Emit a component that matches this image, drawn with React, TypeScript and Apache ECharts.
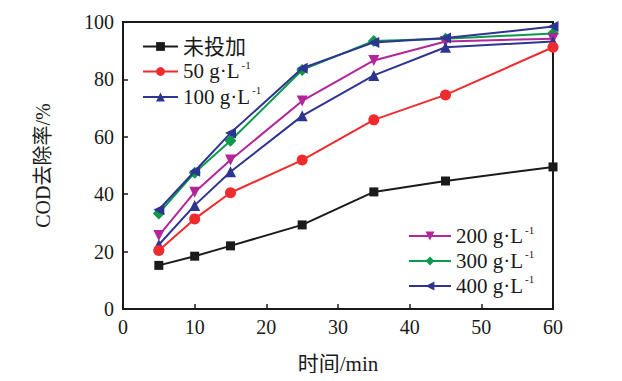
import React, { useEffect, useRef } from "react";
import * as echarts from "echarts";

const times = [5, 10, 15, 25, 35, 45, 60];
const seriesNames = ["未投加", "50 g·L", "100 g·L", "200 g·L", "300 g·L", "400 g·L"];
const none = [15.2, 18.4, 22.0, 29.3, 40.8, 44.6, 49.5];
const g50 = [20.4, 31.4, 40.5, 51.9, 65.9, 74.6, 91.2];
const g100 = [22.4, 36.1, 47.8, 67.3, 81.4, 91.2, 93.2];
const g200 = [25.6, 40.7, 51.9, 72.5, 86.6, 93.2, 94.2];
const g300 = [33.3, 47.5, 58.6, 83.3, 93.4, 94.2, 96.0];
const g400 = [34.6, 48.0, 61.3, 83.9, 92.9, 94.4, 98.4];
const xTicks = [0, 10, 20, 30, 40, 50, 60];
const yTicks = [0, 20, 40, 60, 80, 100];

const values = [none, g50, g100, g200, g300, g400];
const colors = ["#1a1a1a", "#ef2b2d", "#2e3590", "#b3259b", "#0b9a4c", "#2e3590"];
const symbols = ["rect", "circle", "triangle", "triangle", "diamond", "triangle"];
const rotates = [0, 0, 0, 180, 0, 90];
const sizes = [9, 11, 11, 11, 12, 11];

const FONT = "'Liberation Serif', 'Times New Roman', 'Noto Sans CJK SC', serif";

export default function App() {
  const ref = useRef<HTMLDivElement>(null);
  useEffect(() => {
    const chart = echarts.init(ref.current!, undefined, { renderer: "svg" });
    const legendText = {
      fontFamily: FONT,
      fontSize: 21,
      color: "#1a1a1a",
      rich: {
        a: { fontFamily: FONT, fontSize: 21, color: "#1a1a1a", lineHeight: 24 },
        s: { fontFamily: FONT, fontSize: 11, color: "#1a1a1a", verticalAlign: "top", lineHeight: 24, padding: [0, 0, 12, 2] },
      },
    };
    const fmt = (name: string) => (name === "未投加" ? `{a|${name}}` : `{a|${name}}{s|-1}`);
    chart.setOption({
      animation: false,
      grid: {
        left: 123,
        right: 69,
        top: 22,
        bottom: 72,
        show: true,
        borderColor: "#1a1a1a",
        borderWidth: 2,
      },
      legend: [
        {
          data: seriesNames.slice(0, 3),
          orient: "vertical",
          left: 137,
          top: 31,
          itemWidth: 35,
          itemHeight: 11,
          itemGap: 2.5,
          textStyle: legendText,
          formatter: fmt,
        },
        {
          data: seriesNames.slice(3),
          orient: "vertical",
          left: 403,
          top: 219,
          itemWidth: 42,
          itemHeight: 11,
          itemGap: 2,
          textStyle: legendText,
          formatter: fmt,
        },
      ],
      xAxis: {
        type: "value",
        min: 0,
        max: 60,
        interval: 10,
        name: "时间/min",
        nameLocation: "middle",
        nameGap: 44,
        nameTextStyle: { fontFamily: FONT, fontSize: 21, color: "#1a1a1a" },
        axisLine: { lineStyle: { color: "#1a1a1a", width: 2 } },
        axisTick: { inside: true, length: 5, lineStyle: { color: "#1a1a1a", width: 1.5 } },
        axisLabel: {
          fontFamily: FONT,
          fontSize: 20,
          color: "#1a1a1a",
          margin: 8,
          formatter: (v: number) => (xTicks.includes(v) ? String(v) : ""),
        },
        splitLine: { show: false },
      },
      yAxis: {
        type: "value",
        min: 0,
        max: 100,
        interval: 20,
        name: "COD去除率/%",
        nameLocation: "middle",
        nameGap: 70,
        nameTextStyle: { fontFamily: FONT, fontSize: 20, color: "#1a1a1a" },
        axisLine: { lineStyle: { color: "#1a1a1a", width: 2 } },
        axisTick: { inside: true, length: 5, lineStyle: { color: "#1a1a1a", width: 1.5 } },
        axisLabel: {
          fontFamily: FONT,
          fontSize: 20,
          color: "#1a1a1a",
          margin: 9,
          formatter: (v: number) => (yTicks.includes(v) ? String(v) : ""),
        },
        splitLine: { show: false },
      },
      series: seriesNames.map((name, i) => ({
        name,
        type: "line",
        data: times.map((t, j) => [t, values[i][j]]),
        symbol: symbols[i],
        symbolSize: sizes[i],
        symbolRotate: rotates[i],
        showAllSymbol: true,
        lineStyle: { color: colors[i], width: 2 },
        itemStyle: { color: colors[i] },
        z: 10 - (i === 5 ? 0 : i),
      })),
    });
    return () => chart.dispose();
  }, []);
  return <div ref={ref} style={{ width: 622, height: 381, margin: -8, background: "#fff" }} />;
}
